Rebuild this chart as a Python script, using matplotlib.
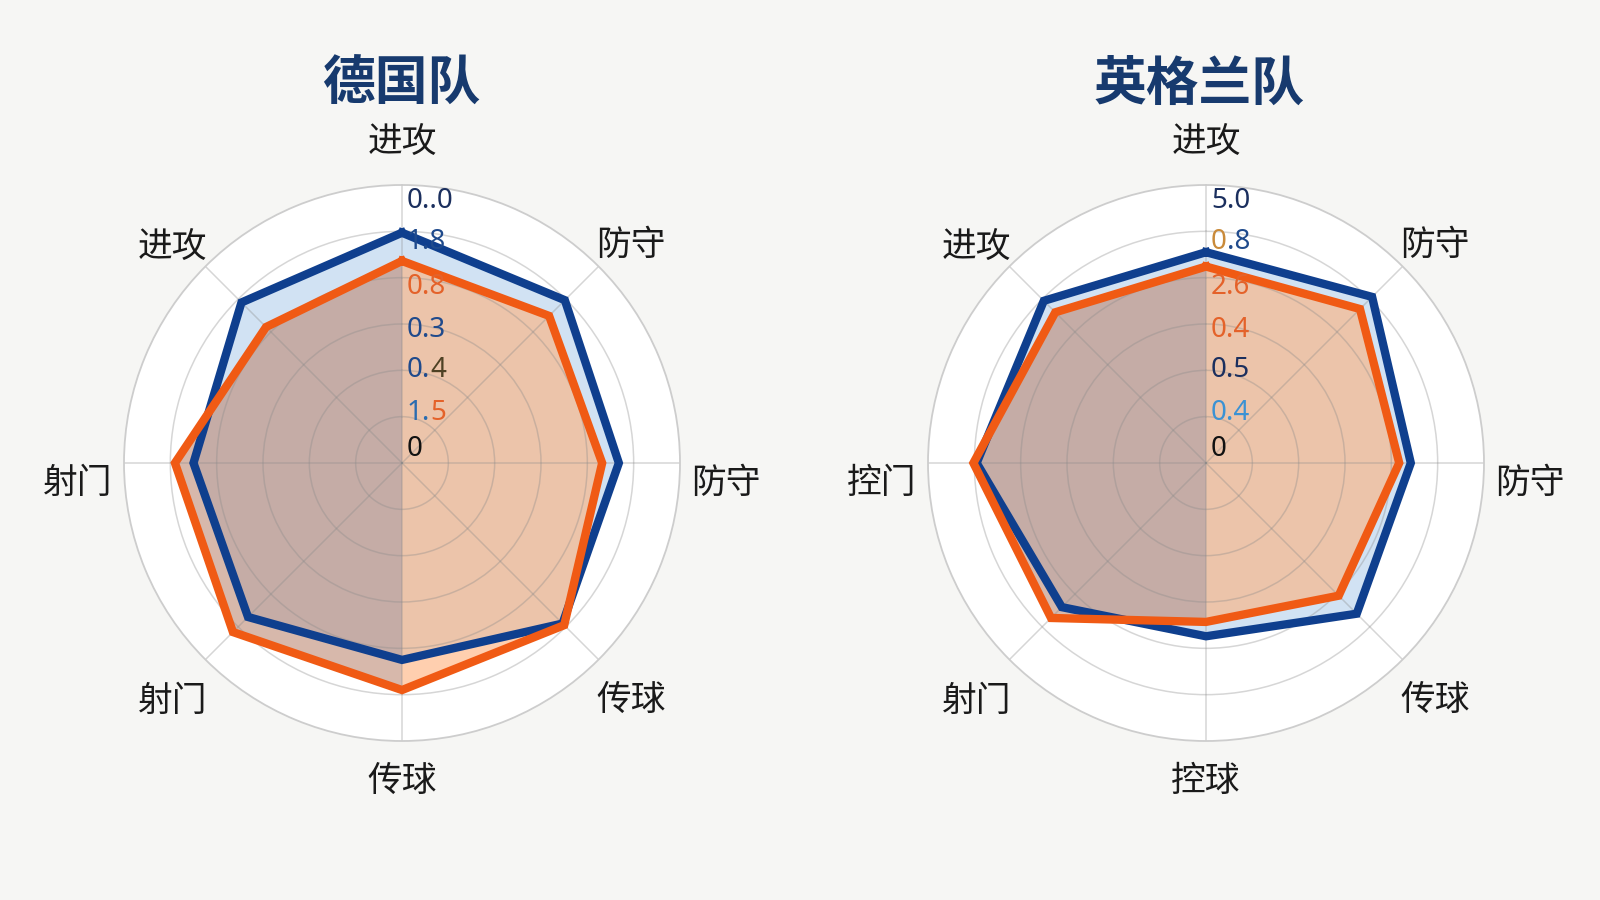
import matplotlib
matplotlib.use("Agg")
import numpy as np
import matplotlib.pyplot as plt
from matplotlib.patches import Rectangle

plt.rcParams['font.family'] = ['Noto Sans CJK SC', 'DejaVu Sans']

# ---------------- data ----------------
titles = ["德国队", "英格兰队"]
categories_de = ["进攻", "防守", "防守", "传球", "传球", "射门", "射门", "进攻"]
categories_en = ["进攻", "防守", "防守", "传球", "控球", "射门", "控门", "进攻"]

de_blue = [4.97, 4.97, 4.68, 4.9, 4.25, 4.7, 4.5, 4.9]
de_orange = [4.36, 4.49, 4.32, 4.95, 4.9, 5.16, 4.9, 4.15]
en_blue = [4.55, 5.07, 4.42, 4.6, 3.74, 4.4, 4.95, 4.95]
en_orange = [4.24, 4.7, 4.17, 4.05, 3.43, 4.73, 5.02, 4.6]

tick_labels_de = ["0..0", "1.8", "0.8", "0.3", "0.4", "1.5", "0"]
tick_labels_en = ["5.0", "0.8", "2.6", "0.4", "0.5", "0.4", "0"]

# ---------------- style ----------------
NAVY = "#1b2f5e"
BLUE2 = "#1f4a8c"
BLUE3 = "#2a6cb0"
LBLUE = "#3b92d4"
ORNG = "#e4622a"
BROWN = "#4e4124"
TAN = "#c98a3a"
BLACK = "#111111"

# per-character colours for the radial labels
tick_colors_de = [[NAVY] * 4, [BLUE2] * 3, [ORNG] * 3, [BLUE2] * 3,
                  [BLUE2, BLUE2, BROWN], [BLUE3, BLUE3, ORNG], [BLACK]]
tick_colors_en = [[NAVY] * 3, [TAN, BLUE2, BLUE2], [ORNG] * 3, [ORNG] * 3,
                  [NAVY] * 3, [LBLUE] * 3, [BLACK]]
tick_r = [5.65, 4.77, 3.8, 2.88, 2.0, 1.08, 0.3]
# vertical nudge (pixels, negative = down) of each category label
label_dy = [-4, -12, -20, -8, 6, -9, -20, -14]

LINE_BLUE = "#0f3f8e"
LINE_ORANGE = "#f05a14"

fig = plt.figure(figsize=(16, 9), dpi=100)
fig.patch.set_facecolor("#f6f6f4")

W, H = 1600, 900
R = 278
centers = [(402, 463), (1206, 463)]
title_x = [401, 1199]

angles = np.arange(8) * 2 * np.pi / 8
closed = np.append(angles, angles[0])

datasets = [(categories_de, de_blue, de_orange, tick_labels_de, tick_colors_de),
            (categories_en, en_blue, en_orange, tick_labels_en, tick_colors_en)]

axes = []
for i, (cx, cy) in enumerate(centers):
    ax = fig.add_axes([(cx - R) / W, (H - cy - R) / H, 2 * R / W, 2 * R / H],
                      projection="polar")
    axes.append(ax)
    cats, blue, orange, tl, tc = datasets[i]
    ax.set_facecolor("white")
    ax.set_theta_zero_location("N")
    ax.set_theta_direction(-1)
    ax.set_ylim(0, 6)
    ax.set_yticks([1, 2, 3, 4, 5])
    ax.set_yticklabels([])
    ax.set_xticks(angles)
    ax.set_xticklabels([])
    ax.grid(True, color="#8a8a8a", alpha=0.35, linewidth=1.1)
    ax.spines["polar"].set_color("#cdcdcd")
    ax.spines["polar"].set_linewidth(1.3)
    ax.set_axisbelow("line")

    b = np.append(blue, blue[0])
    o = np.append(orange, orange[0])

    ax.fill(closed, b, color="#c6dbf0", alpha=0.8, zorder=1, lw=0)
    for (x0, col) in [(0.0, "#bd8973"), (0.5, "#ffb07a")]:
        polys = ax.fill(closed, o, color=col, alpha=0.6, zorder=1.1, lw=0)
        clip = Rectangle((x0, 0), 0.5, 1, transform=ax.transAxes)
        for p in polys:
            p.set_clip_path(clip)

    ax.plot(closed, b, color=LINE_BLUE, lw=6, zorder=3, solid_joinstyle="miter")
    ax.plot(closed, o, color=LINE_ORANGE, lw=6, zorder=3.1, solid_joinstyle="miter")

    for ang, lab, dy in zip(angles, cats, label_dy):
        ax.annotate(lab, xy=(ang, 7.0), xycoords="data",
                    xytext=(0, dy * 72 / 100), textcoords="offset points",
                    ha="center", va="center", fontsize=25, color="#1a1a1a",
                    annotation_clip=False)

    fig.text(title_x[i] / W, 1 - 84 / H, titles[i], ha="center", va="center",
             fontsize=38, fontweight="bold", color="#173a6e")

fig.canvas.draw()
renderer = fig.canvas.get_renderer()

for i, ax in enumerate(axes):
    _, _, _, tl, tc = datasets[i]
    for lab, cols, r in zip(tl, tc, tick_r):
        segs = []
        for ch, c in zip(lab, cols):
            if segs and segs[-1][1] == c:
                segs[-1][0] += ch
            else:
                segs.append([ch, c])
        xoff = 3.5
        for s, c in segs:
            t = ax.annotate(s, xy=(0, r), xycoords="data", xytext=(xoff, 0),
                            textcoords="offset points", ha="left", va="center",
                            fontsize=20, color=c, annotation_clip=False,
                            family=["Noto Sans", "DejaVu Sans"], zorder=5)
            bb = t.get_window_extent(renderer)
            xoff += bb.width * 72 / fig.dpi

fig.savefig("out.png", dpi=100, facecolor=fig.get_facecolor())
